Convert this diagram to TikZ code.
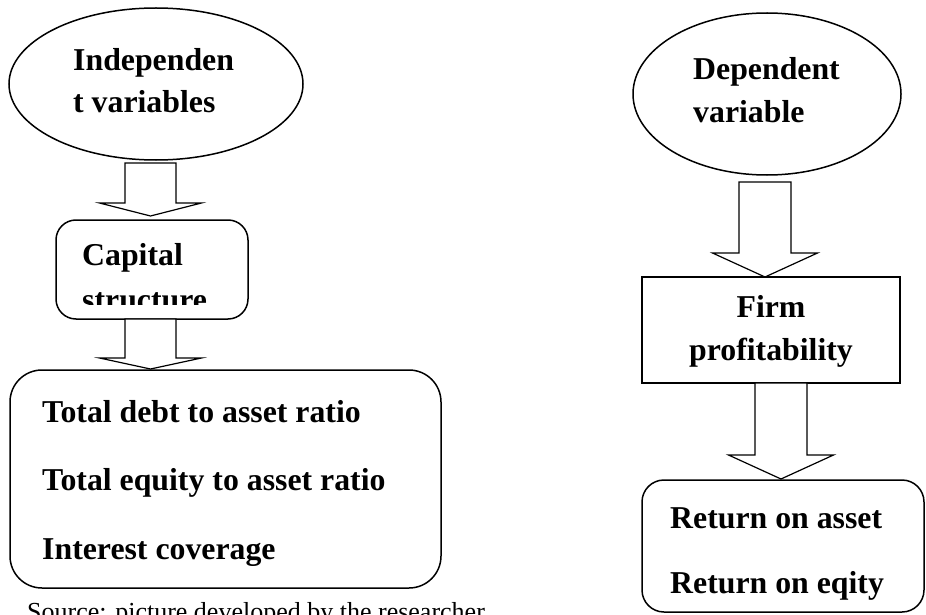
\documentclass[tikz,border=0pt]{standalone}
\usepackage{fontspec}
\setmainfont{Liberation Serif}
\usetikzlibrary{shapes.geometric,calc}
\tikzset{
  boxline/.style={draw=black, line width=1.5pt},
  arrowline/.style={draw=black, line width=1.2pt, line join=miter, fill=white},
  bigtxt/.style={inner sep=0pt, anchor=base west, font=\fontsize{31.8pt}{40pt}\selectfont\bfseries},
  srctxt/.style={inner sep=0pt, anchor=base west, font=\fontsize{26pt}{32pt}\selectfont},
}
\newcommand{\blockarr}[5]{%
  \draw[arrowline] ($(#1)+(-#3,0)$) -- ($(#2)+(-#3,-#5)$) -- ($(#2)+(-#4,-#5)$) -- (#2)
    -- ($(#2)+(#4,-#5)$) -- ($(#2)+(#3,-#5)$) -- ($(#1)+(#3,0)$) -- cycle;}
\begin{document}
\begin{tikzpicture}[x=1pt,y=-1pt]
\useasboundingbox (0,0) rectangle (926,615);
% left column
\node[boxline, ellipse, minimum width=294pt, minimum height=152pt, inner sep=0pt] (ind) at (156,84) {};
\node[bigtxt] (indA) at (73,71) {Independen};
\node[bigtxt] (indB) at (73,113) {t variables};

\node[boxline, rectangle, rounded corners=20pt, minimum width=192pt, minimum height=99pt, inner sep=0pt] (cap) at (152,269.5) {};
\node[bigtxt] (capA) at (82,265) {Capital};
\begin{scope}
\clip (56,220) rectangle (248,304);
\node[bigtxt] (capB) at (82,310) {structure};
\end{scope}

\node[boxline, rectangle, rounded corners=32pt, minimum width=431pt, minimum height=218pt, inner sep=0pt] (cs) at (225.5,479) {};
\node[bigtxt] (csA) at (42,422) {Total debt to asset ratio};
\node[bigtxt] (csB) at (42,490) {Total equity to asset ratio};
\node[bigtxt] (csC) at (42,559) {Interest coverage};

\node[srctxt] (src) at (27,620) {Source: picture developed by the researcher};

\coordinate (a1top) at (150.5,163);
\coordinate (a1tip) at (150.5,216);
\coordinate (a2top) at (150.5,319);
\coordinate (a2tip) at (150.5,369);
\blockarr{a1top}{a1tip}{25.5}{51}{13}
\blockarr{a2top}{a2tip}{25.5}{51}{11}

% right column
\node[boxline, ellipse, minimum width=268pt, minimum height=162pt, inner sep=0pt] (dep) at (767,94) {};
\node[bigtxt] (depA) at (693,80) {Dependent};
\node[bigtxt] (depB) at (693,123) {variable};

\node[boxline, rectangle, minimum width=258pt, minimum height=106pt, inner sep=0pt] (firm) at (771,330) {};
\node[bigtxt, anchor=base] (firmA) at (771,317) {Firm};
\node[bigtxt, anchor=base] (firmB) at (771,360) {profitability};

\node[boxline, rectangle, rounded corners=22pt, minimum width=282pt, minimum height=132pt, inner sep=0pt] (ret) at (783,546) {};
\node[bigtxt] (retA) at (670,528) {Return on asset};
\node[bigtxt] (retB) at (670,593) {Return on eqity};

\coordinate (b1top) at (765,182);
\coordinate (b1tip) at (765,277);
\coordinate (b2top) at (781,383);
\coordinate (b2tip) at (781,479);
\blockarr{b1top}{b1tip}{26}{52.5}{24}
\blockarr{b2top}{b2tip}{26}{52.5}{24}
\end{tikzpicture}
\end{document}
